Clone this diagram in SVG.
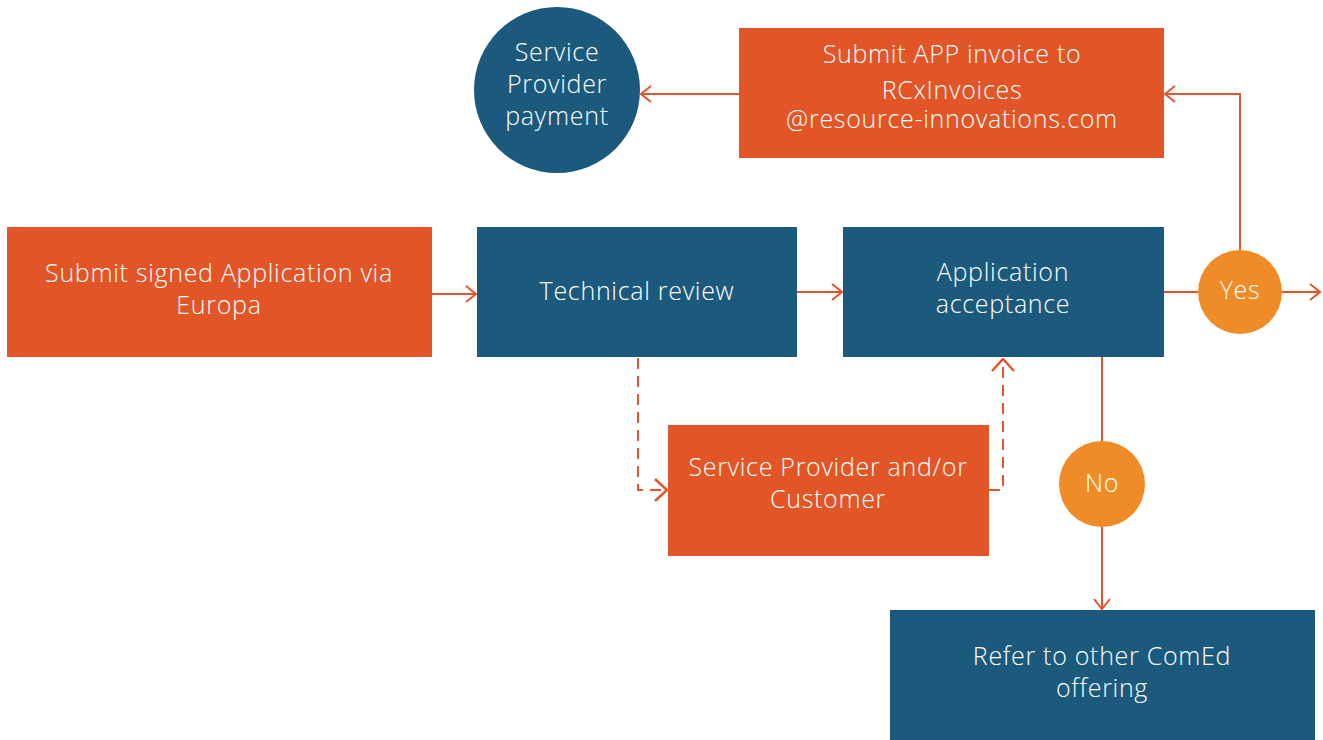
<svg xmlns="http://www.w3.org/2000/svg" width="1323" height="740" viewBox="0 0 1323 740">
<style>
.ob{fill:#E25526}
.bb{fill:#1B5A7D}
.yc{fill:#F08C27}
text{font-family:"Open Sans",Lato,"Liberation Sans",sans-serif;font-size:25px;font-weight:300;letter-spacing:0.7px;fill:#ffffff;text-anchor:middle}
.ln{stroke:#E5552B;stroke-width:2;fill:none}
.ds{stroke-dasharray:11 7}
</style>
<defs>
<marker id="ah" viewBox="0 0 12 18" refX="11" refY="9" markerWidth="12" markerHeight="18" markerUnits="userSpaceOnUse" orient="auto">
<path d="M1,1 L11,9 L1,17" fill="none" stroke="#E5552B" stroke-width="2"/>
</marker>
<marker id="ahd" viewBox="0 0 14 24" refX="13" refY="12" markerWidth="14" markerHeight="24" markerUnits="userSpaceOnUse" orient="auto">
<path d="M1,1 L13,12 L1,23" fill="none" stroke="#E5552B" stroke-width="2.5"/>
</marker>
</defs>
<rect width="1323" height="740" fill="#ffffff"/>
<g id="connectors">
<line class="ln" x1="432" y1="294" x2="476" y2="294" marker-end="url(#ah)"/>
<line class="ln" x1="797" y1="292" x2="842" y2="292" marker-end="url(#ah)"/>
<line class="ln" x1="1164" y1="292" x2="1198" y2="292"/>
<line class="ln" x1="1282" y1="292" x2="1320" y2="292" marker-end="url(#ah)"/>
<polyline class="ln" points="1240,250 1240,94 1165,94" marker-end="url(#ah)"/>
<line class="ln" x1="739" y1="94" x2="641" y2="94" marker-end="url(#ah)"/>
<line class="ln" x1="1102" y1="357" x2="1102" y2="442"/>
<line class="ln" x1="1102" y1="527" x2="1102" y2="609" marker-end="url(#ah)"/>
<polyline class="ln ds" points="638,358 638,490 667,490" marker-end="url(#ahd)"/>
<polyline class="ln ds" points="989,490 1003,490 1003,359" marker-end="url(#ahd)"/>
</g>
<g id="submit-application">
<rect class="ob" x="7" y="227" width="425" height="130"/>
<text x="219" y="282">Submit signed Application via</text>
<text x="219" y="314">Europa</text>
</g>
<g id="technical-review">
<rect class="bb" x="477" y="227" width="320" height="130"/>
<text x="637" y="300">Technical review</text>
</g>
<g id="application-acceptance">
<rect class="bb" x="843" y="227" width="321" height="130"/>
<text x="1003" y="281">Application</text>
<text x="1003" y="313">acceptance</text>
</g>
<g id="submit-invoice">
<rect class="ob" x="739" y="28" width="425" height="130"/>
<text x="952" y="63">Submit APP invoice to</text>
<text x="952" y="99">RCxInvoices</text>
<text x="952" y="128">@resource-innovations.com</text>
</g>
<g id="service-provider-payment">
<circle class="bb" cx="557" cy="90" r="83"/>
<text x="557" y="61">Service</text>
<text x="557" y="93">Provider</text>
<text x="557" y="125">payment</text>
</g>
<g id="service-provider-customer">
<rect class="ob" x="668" y="425" width="321" height="131"/>
<text x="828" y="476">Service Provider and/or</text>
<text x="828" y="508">Customer</text>
</g>
<g id="yes">
<circle class="yc" cx="1240" cy="292" r="42"/>
<text x="1240" y="299">Yes</text>
</g>
<g id="no">
<circle class="yc" cx="1102" cy="484" r="43"/>
<text x="1102" y="492">No</text>
</g>
<g id="refer">
<rect class="bb" x="890" y="610" width="425" height="130"/>
<text x="1102" y="665">Refer to other ComEd</text>
<text x="1102" y="697">offering</text>
</g>
</svg>
